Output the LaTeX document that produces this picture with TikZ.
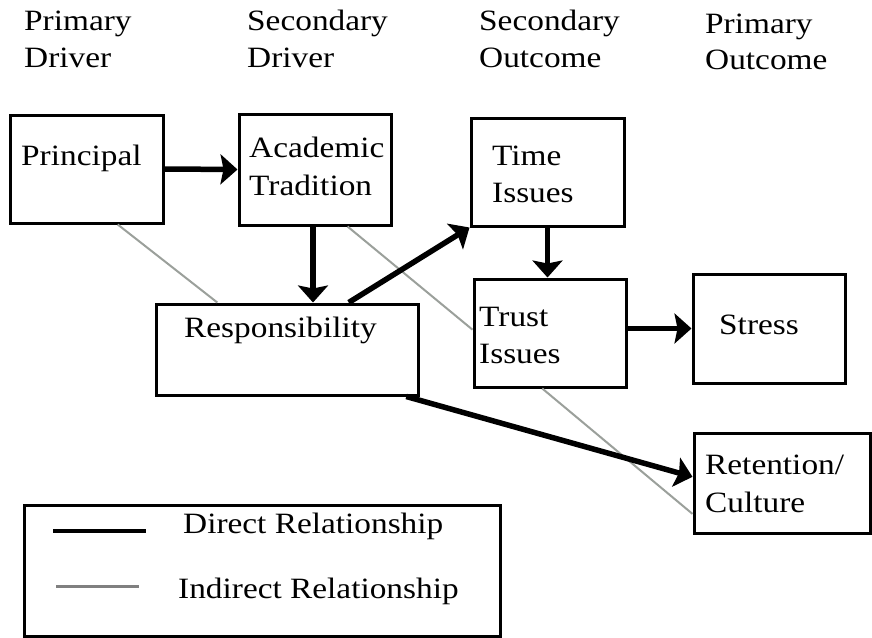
\documentclass[tikz,border=0pt]{standalone}
\usepackage{fontspec}
\setmainfont{Liberation Serif}[FakeStretch=1.13]
\usetikzlibrary{arrows.meta,calc}
\definecolor{indir}{RGB}{155,160,155}
\definecolor{legindir}{RGB}{128,128,128}
\tikzset{
  box/.style={draw=black, line width=3pt, inner sep=0pt, fill=white},
  txt/.style={anchor=base west, inner sep=0pt, font=\fontsize{29.5}{37}\selectfont},
  direct/.style={line width=5.5pt, -{Stealth[length=17pt,width=30pt,inset=3pt]}},
  indirect/.style={line width=2pt, draw=indir},
}
\begin{document}
\begin{tikzpicture}[x=1pt,y=-1pt]
\useasboundingbox (0,0) rectangle (872,637);
% header
\node[txt] (h1a) at (24,30) {Primary};
\node[txt] (h1b) at (24,67) {Driver};
\node[txt] (h2a) at (247,30) {Secondary};
\node[txt] (h2b) at (247,67) {Driver};
\node[txt] (h3a) at (479,30) {Secondary};
\node[txt] (h3b) at (479,67) {Outcome};
\node[txt] (h4a) at (705,33) {Primary};
\node[txt] (h4b) at (705,69) {Outcome};
% boxes
\node[box, minimum width=153pt, minimum height=108pt] (prin) at (86.5,169) {};
\node[box, minimum width=152pt, minimum height=111pt] (acad) at (315,169.5) {};
\node[box, minimum width=262pt, minimum height=91pt] (resp) at (287,349.5) {};
\node[box, minimum width=153pt, minimum height=108pt] (time) at (547.5,172) {};
\node[box, minimum width=152pt, minimum height=108pt] (trust) at (550,333) {};
\node[box, minimum width=152pt, minimum height=109pt] (stress) at (769,328.5) {};
\node[box, minimum width=176pt, minimum height=100pt] (ret) at (782,483) {};
% texts
\node[txt] (tprin) at (21,165) {Principal};
\node[txt] (tacad1) at (249,157) {Academic};
\node[txt] (tacad2) at (249,195) {Tradition};
\node[txt] (tresp) at (184,337) {Responsibility};
\node[txt] (ttime1) at (492,165) {Time};
\node[txt] (ttime2) at (492,202) {Issues};
\node[txt] (ttrust1) at (479,326) {Trust};
\node[txt] (ttrust2) at (479,363) {Issues};
\node[txt] (tstress) at (719,334) {Stress};
\node[txt] (tret1) at (705,474) {Retention/};
\node[txt] (tret2) at (705,512) {Culture};
% indirect relationships
\draw[indirect] ($(prin.south west)!0.70!(prin.south east)$) -- ($(resp.north west)!0.237!(resp.north east)$);
\draw[indirect] ($(acad.south west)!0.71!(acad.south east)$) -- ($(trust.north west)!0.47!(trust.south west)$);
\draw[indirect] ($(trust.south west)!0.45!(trust.south east)$) -- ($(ret.north west)!0.80!(ret.south west)$);
% direct relationships
\coordinate (a1) at ($(acad.south)+(-2,0)$);
\draw[direct] (prin.east) -- (acad.west);
\draw[direct] (a1) -- (a1 |- resp.north);
\draw[direct] ($(resp.north west)!0.733!(resp.north east)$) -- (time.south west);
\draw[direct] (time.south) -- (time.south |- trust.north);
\draw[direct] (stress.west -| trust.east) -- (stress.west);
\draw[direct] ($(resp.south west)!0.95!(resp.south east)$) -- ($(ret.north west)!0.44!(ret.south west)$);
% legend
\node[box, fill=none, minimum width=476pt, minimum height=131pt] (legend) at (262,570.5) {};
\coordinate (d1) at (53,531);
\coordinate (d2) at (146,531);
\coordinate (i1) at (56,586);
\coordinate (i2) at (139,586);
\draw[line width=4.5pt] (d1) -- (d2);
\draw[line width=3pt, draw=legindir] (i1) -- (i2);
\node[txt] (ldir) at (183,533) {Direct Relationship};
\node[txt] (lind) at (178,598) {Indirect Relationship};
\end{tikzpicture}
\end{document}
